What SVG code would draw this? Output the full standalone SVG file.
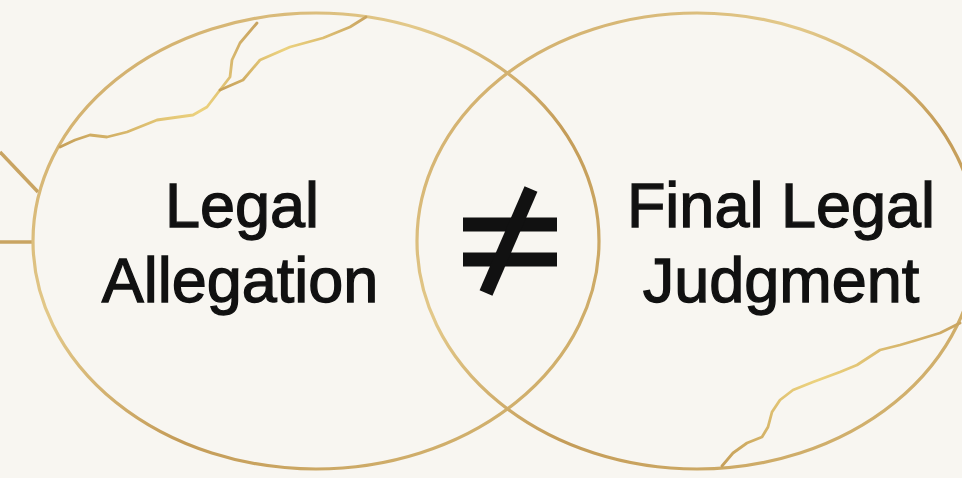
<svg xmlns="http://www.w3.org/2000/svg" width="962" height="478" viewBox="0 0 962 478">
  <defs>
    <linearGradient id="gold" x1="0" y1="0" x2="1" y2="1">
      <stop offset="0" stop-color="#c9a25e"/>
      <stop offset="0.35" stop-color="#e3c98a"/>
      <stop offset="0.6" stop-color="#c49c58"/>
      <stop offset="1" stop-color="#d8bb78"/>
    </linearGradient>
    <linearGradient id="crack" x1="0" y1="1" x2="1" y2="0">
      <stop offset="0" stop-color="#c6a05a"/>
      <stop offset="0.5" stop-color="#ecd27e"/>
      <stop offset="1" stop-color="#c9a461"/>
    </linearGradient>
    <style>
      .ring { fill: none; stroke: url(#gold); stroke-width: 3.2; }
      .crack { fill: none; stroke: url(#crack); stroke-width: 2.8; stroke-linejoin: round; stroke-linecap: round; }
      .conn { fill: none; stroke: #c9a462; stroke-width: 3.5; }
      .label { font-family: "Liberation Sans", Arial, sans-serif; font-size: 63px; fill: #111; stroke: #111; stroke-width: 1.3; text-anchor: middle; }
      .neq { stroke: #111; stroke-width: 14; fill: none; }
    </style>
  </defs>
  <rect width="962" height="478" fill="#f8f6f1"/>

  <g id="connectors">
    <path class="conn" d="M0 152 L38 192"/>
    <path class="conn" d="M0 242 L34 242"/>
  </g>

  <g id="legal-allegation">
    <ellipse class="ring" cx="316" cy="241" rx="283" ry="228"/>
    <path class="crack" d="M60 147 L75 140 L90 135 L107 137 L127 132 L157 120 L193 115 L207 107 L220 90 L230 77 L232 60 L240 43 L257 23"/>
    <path class="crack" d="M220 90 L243 80 L260 60 L290 47 L323 38 L350 27 L366 17"/>
    <text class="label" x="242" y="227">Legal</text>
    <text class="label" x="240" y="302">Allegation</text>
  </g>

  <g id="final-legal-judgment">
    <ellipse class="ring" cx="697" cy="241" rx="280" ry="228"/>
    <path class="crack" d="M722 466 L733 453 L747 443 L762 437 L768 427 L772 412 L780 400 L793 390 L813 382 L840 372 L857 365 L880 350 L900 345 L917 340 L940 333 L960 323"/>
    <text class="label" x="781" y="227">Final Legal</text>
    <text class="label" x="781" y="302">Judgment</text>
  </g>

  <g id="not-equal">
    <path class="neq" d="M463 224.5 H557 M463 259.5 H557"/>
    <path class="neq" d="M531 189 L486 293"/>
  </g>
</svg>
